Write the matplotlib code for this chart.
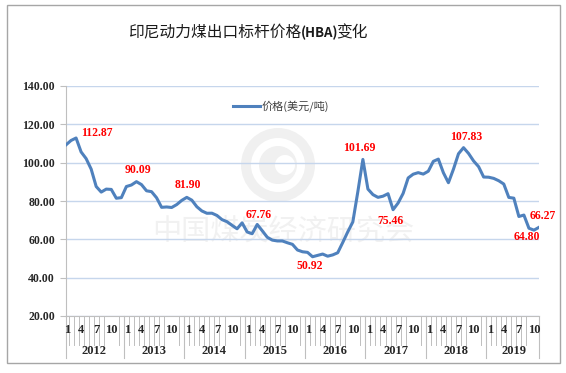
import matplotlib
matplotlib.use("Agg")
import matplotlib.pyplot as plt
from matplotlib.patches import Rectangle, Circle
from matplotlib.ticker import FormatStrFormatter

plt.rcParams["font.family"] = ["Noto Sans CJK SC", "DejaVu Sans"]

# ---- data ----------------------------------------------------------------
years = ["2012", "2013", "2014", "2015", "2016", "2017", "2018", "2019"]
months_in_year = [12, 12, 12, 12, 12, 12, 12, 11]
shown_months = [1, 4, 7, 10]
price = [
    109.29, 111.58, 112.87, 105.61, 102.12, 96.65, 87.56, 84.65, 86.21, 86.04, 81.44, 81.75,   # 2012
    87.55, 88.35, 90.09, 88.56, 85.33, 84.87, 81.69, 76.70, 76.89, 76.61, 78.13, 80.31,        # 2013
    81.90, 80.44, 77.01, 74.81, 73.60, 73.64, 72.45, 70.29, 69.20, 67.30, 65.50, 68.60,        # 2014
    63.84, 62.92, 67.76, 64.48, 61.08, 59.59, 59.16, 59.14, 58.21, 57.39, 54.43, 53.51,        # 2015
    53.20, 50.92, 51.62, 52.32, 51.20, 51.87, 53.00, 58.37, 63.93, 69.07, 84.89, 101.69,       # 2016
    86.23, 83.32, 81.90, 82.51, 83.81, 75.46, 78.95, 83.97, 92.03, 93.99, 94.80, 94.04,        # 2017
    95.54, 100.69, 101.86, 94.75, 89.53, 96.61, 104.65, 107.83, 104.81, 100.89, 97.90, 92.51,  # 2018
    92.41, 91.80, 90.57, 88.85, 81.86, 81.48, 71.92, 72.67, 65.79, 64.80, 66.27,               # 2019
]
labelled = [2, 14, 24, 38, 49, 59, 65, 79, 93, 94]
yticks = [20, 40, 60, 80, 100, 120, 140]

# label offsets in pixels (dx, dy), styling only
OFFS = {2: (21, 5), 14: (1, 12), 24: (1, 12), 38: (1, 9), 49: (-3, -9),
        59: (-4, 11), 65: (-3, -11), 79: (3, 11), 93: (-7, -7), 94: (4, 11)}

LINE = "#4F81BD"
GRID = "#C6D6EC"
AXC = "#BFBFBF"
TXT = "#262626"
NUMFONT = "Liberation Serif"

W, H = 566, 373
fig = plt.figure(figsize=(W / 100, H / 100), dpi=100)
L, R, T, B = 66, 539, 86, 316
ax = fig.add_axes([L / W, 1 - B / H, (R - L) / W, (B - T) / H])

# outer frame
fig.patches.append(Rectangle((7 / W, 1 - 363 / H), 553 / W, 358 / H,
                             transform=fig.transFigure, fill=False,
                             edgecolor="#A6A6A6", lw=1))

# watermark (faint logo and text behind the chart)
wm_ax = fig.add_axes([0, 0, 1, 1], zorder=-1)
wm_ax.set_xlim(0, W); wm_ax.set_ylim(H, 0); wm_ax.axis("off")
wm_ax.add_patch(Circle((278, 165), 37, color="#F0F0F0", lw=0))
wm_ax.add_patch(Circle((278, 165), 27, color="white", lw=0))
wm_ax.add_patch(Circle((278, 165), 19, color="#F0F0F0", lw=0))
wm_ax.add_patch(Circle((285, 165), 10, color="white", lw=0))
wm_ax.text(283, 233, "中国煤炭经济研究会", fontsize=21, color="#F1F1F1",
           ha="center", va="center", fontweight="light")
ax.patch.set_alpha(0)

n = len(price)
x = list(range(n))
ax.plot(x, price, color=LINE, lw=2.2, label="价格(美元/吨)", zorder=3,
        solid_joinstyle="round")

ax.set_xlim(0, n - 1)
ax.set_ylim(20, 140)
ax.set_yticks(yticks)
ax.yaxis.set_major_formatter(FormatStrFormatter("%.2f"))
ax.grid(axis="y", color=GRID, lw=1)
ax.set_axisbelow(True)
for s in ["top", "right"]:
    ax.spines[s].set_visible(False)
ax.spines["left"].set_color(AXC)
ax.spines["bottom"].set_color(AXC)
ax.tick_params(axis="y", length=4, color=AXC, pad=4, labelsize=8.5,
               labelcolor=TXT)
for t in ax.get_yticklabels():
    t.set_fontfamily(NUMFONT); t.set_fontweight("bold")
ax.set_xticks([])

# multi-level category axis
tr = ax.get_xaxis_transform()
yf = lambda px: (B - px) / (B - T)
starts = [sum(months_in_year[:k]) for k in range(len(years))]
ten_pos = []
for k, yr in enumerate(years):
    s = starts[k]
    for m in shown_months:
        if m <= months_in_year[k]:
            if m == 10:
                ten_pos.append(s + m - 1)
            ax.text(s + m - 1 + (0.2 if m == 1 else 0), yf(330), str(m),
                    transform=tr, ha="center", va="center", fontsize=9,
                    fontfamily=NUMFONT, fontweight="bold", color=TXT)
    e = s + months_in_year[k] - 1
    ax.text((s + e) / 2, yf(351), yr, transform=tr, ha="center", va="center",
            fontsize=9, fontfamily=NUMFONT, fontweight="bold", color=TXT)
    left = max(s - 0.5, 0)
    ax.plot([left, left], [yf(B), yf(358)], transform=tr, color=AXC, lw=0.8,
            clip_on=False)
ax.plot([n - 1, n - 1], [yf(B), yf(358)], transform=tr, color=AXC, lw=0.8,
        clip_on=False)
for i in range(1, n):
    b = i - 0.5
    if i in starts or any(abs(b - p) < 0.8 for p in ten_pos):
        continue
    ax.plot([b, b], [yf(B), yf(345)], transform=tr, color=AXC, lw=0.7,
            clip_on=False)

# value labels
for i in labelled:
    dx, dy = OFFS[i]
    ax.annotate(f"{price[i]:.2f}", (x[i], price[i]), xytext=(dx, dy),
                textcoords="offset pixels", ha="center", va="center",
                fontsize=8.5, fontfamily=NUMFONT, fontweight="bold",
                color="#FF0000", zorder=4)

# legend
leg = ax.legend(loc="center left", bbox_to_anchor=(233 / W, 1 - 106 / H),
                bbox_transform=fig.transFigure, frameon=False, fontsize=8,
                handlelength=2.4, handletextpad=0.2, borderpad=0,
                borderaxespad=0)
for t in leg.get_texts():
    t.set_color("#404040")

# title: regular CJK with bold (HBA)
t1 = fig.text(128 / W, 1 - 33 / H, "印尼动力煤出口标杆价格", fontsize=11.3,
              ha="left", va="center", color="#1A1A1A")
t2 = fig.add_artist(matplotlib.text.Annotation(
    "(HBA)", xy=(1, 0.05), xycoords=t1, va="bottom", ha="left", fontsize=9.5,
    fontweight="bold", color="#1A1A1A"))
fig.add_artist(matplotlib.text.Annotation(
    "变化", xy=(1, 0), xycoords=(t2, t1), xytext=(-3, 0),
    textcoords="offset pixels", va="bottom", ha="left", fontsize=11.3,
    color="#1A1A1A"))

fig.savefig("out.png", dpi=100)
